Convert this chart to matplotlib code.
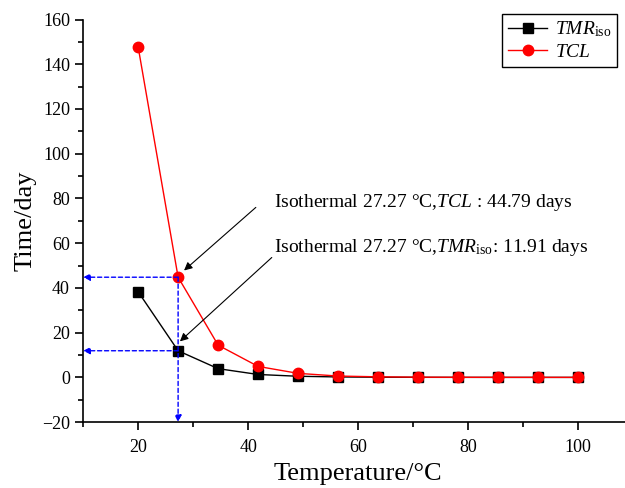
import numpy as np
import matplotlib
matplotlib.use('Agg')
import matplotlib.pyplot as plt
from matplotlib.ticker import MultipleLocator

plt.rcParams['font.family'] = ['Liberation Serif', 'DejaVu Serif']
plt.rcParams['mathtext.fontset'] = 'custom'
plt.rcParams['mathtext.rm'] = 'Liberation Serif'
plt.rcParams['mathtext.it'] = 'Liberation Serif:italic'

# data
temp = [20, 27.27, 34.55, 41.82, 49.09, 56.36, 63.64, 70.91, 78.18, 85.45, 92.73, 100]
tmr_iso = [38.3, 11.91, 3.9, 1.3, 0.5, 0.2, 0.08, 0.03, 0.01, 0.0, 0.0, 0.0]
tcl = [147.8, 44.79, 14.4, 4.9, 1.8, 0.6, 0.25, 0.1, 0.04, 0.02, 0.01, 0.0]
iso_T = 27.27
iso_tcl = 44.79
iso_tmr = 11.91

fig = plt.figure(figsize=(6.25, 4.88), dpi=100)
ax = fig.add_axes([0.133, 0.135, 0.88, 0.825])

ax.plot(temp, tmr_iso, color='black', lw=1, marker='s', ms=6.5, label=r'$\mathit{TMR}_{\mathrm{iso}}$')
ax.plot(temp, tcl, color='red', lw=1, marker='o', ms=7.5, label=r'$\mathit{TCL}$')

# blue guide lines
arr = dict(arrowstyle='-|>', color='blue', ls=(0, (3, 2)), lw=1, mutation_scale=10, shrinkA=0, shrinkB=0)
ax.annotate('', xy=(10, iso_tcl), xytext=(iso_T, iso_tcl), arrowprops=arr)
ax.annotate('', xy=(10, iso_tmr), xytext=(iso_T, iso_tmr), arrowprops=arr)
ax.annotate('', xy=(iso_T, -20), xytext=(iso_T, iso_tcl), arrowprops=arr)

# text callouts
karr = dict(arrowstyle='-|>', color='black', lw=0.8, mutation_scale=12, shrinkA=0, shrinkB=0)
ax.annotate('', xy=(28.35, 47.8), xytext=(41.4, 76), arrowprops=karr)
ax.annotate('', xy=(27.6, 16.1), xytext=(44.3, 53.6), arrowprops=karr)
ax.text(44.7, 78, 'Isothermal 27.27 °C,' + r'$\mathit{TCL}$' + ' : 44.79 days', fontsize=14, va='center')
ax.text(44.7, 58, 'Isothermal 27.27 °C,' + r'$\mathit{TMR}_{\mathrm{iso}}$' + ': 11.91 days', fontsize=14, va='center')

ax.set_xlim(10, 110)
ax.set_ylim(-20, 160)
ax.xaxis.set_major_locator(MultipleLocator(20))
ax.xaxis.set_minor_locator(MultipleLocator(10))
ax.yaxis.set_major_locator(MultipleLocator(20))
ax.yaxis.set_minor_locator(MultipleLocator(10))
ax.spines['top'].set_visible(False)
ax.spines['right'].set_visible(False)
for s in ('left', 'bottom'):
    ax.spines[s].set_linewidth(1.2)
ax.tick_params(which='major', direction='out', length=6, width=1.2, labelsize=13)
ax.tick_params(which='minor', direction='out', length=3.5, width=1.2)
ax.tick_params(axis='x', pad=6)

ax.set_xlabel('Temperature/°C', fontsize=19, labelpad=5)
ax.set_ylabel('Time/day', fontsize=19, labelpad=4)

leg = ax.legend(loc='upper right', bbox_to_anchor=(0.971, 1.014), fontsize=14, fancybox=False,
                edgecolor='black', framealpha=1, handlelength=2.0, borderpad=0.3, labelspacing=0.2,
                handletextpad=0.4, borderaxespad=0.0)
leg.get_frame().set_linewidth(1)

fig.savefig('out.png', dpi=100)
